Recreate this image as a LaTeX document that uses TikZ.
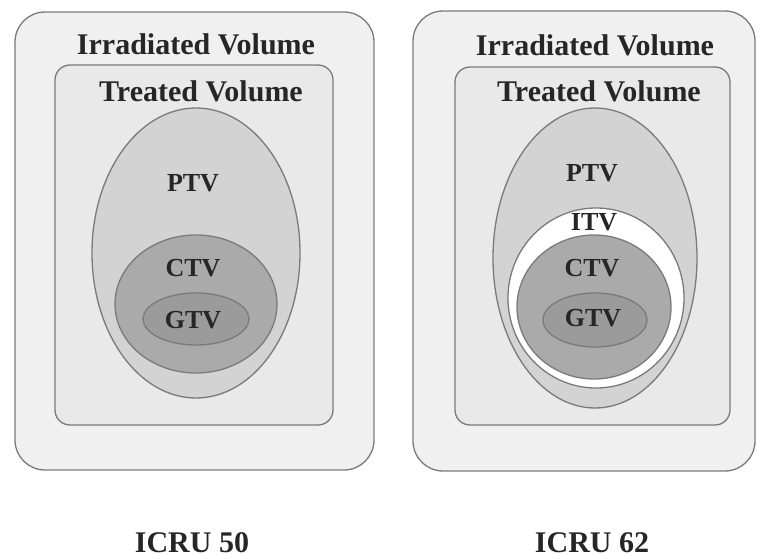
\documentclass[tikz,border=0pt]{standalone}
\usepackage{fontspec}
\setmainfont{Liberation Serif}
\definecolor{boxfill}{HTML}{F0F0F0}
\definecolor{treatfill}{HTML}{E9E9E9}
\definecolor{ptvfill}{HTML}{D3D3D3}
\definecolor{ctvfill}{HTML}{AAAAAA}
\definecolor{gtvfill}{HTML}{9B9B9B}
\definecolor{edge}{HTML}{7A7A7A}
\begin{document}
\begin{tikzpicture}[x=1pt,y=-1pt,line width=1.3pt,draw=edge,
    biglabel/.style={text=black!85,font=\fontsize{30}{36}\selectfont\bfseries,inner sep=0pt},
    vollabel/.style={text=black!85,font=\fontsize{26}{30}\selectfont\bfseries,inner sep=0pt}]
  \useasboundingbox (0,0) rectangle (760,559);
  % ICRU 50: draw outer box
  \draw[fill=boxfill,rounded corners=30pt] (15,12) rectangle (374,470);
  \node[biglabel] (irr50) at (196,44) {Irradiated Volume};
  % draw inner box
  \draw[fill=treatfill,rounded corners=15pt] (55,65) rectangle (333,425);
  \node[biglabel] (treat50) at (201,91) {Treated Volume};
  % draw PTV, CTV, GTV
  \draw[fill=ptvfill] (196,253) ellipse [x radius=104, y radius=145];
  \node[vollabel] (ptv50) at (193,183) {PTV};
  \draw[fill=ctvfill] (196,304) ellipse [x radius=81, y radius=69];
  \node[vollabel] (ctv50) at (193,268) {CTV};
  \draw[fill=gtvfill] (196,319) ellipse [x radius=53, y radius=26];
  \node[vollabel] (gtv50) at (193,320) {GTV};
  \node[biglabel] (icru50) at (192,543) {ICRU 50};
  % ICRU 62: draw outer box
  \draw[fill=boxfill,rounded corners=30pt] (413,11) rectangle (755,471);
  \node[biglabel] (irr62) at (595,45) {Irradiated Volume};
  % draw inner box
  \draw[fill=treatfill,rounded corners=15pt] (455,67) rectangle (730,425);
  \node[biglabel] (treat62) at (599,91) {Treated Volume};
  % draw PTV, ITV, CTV, GTV
  \draw[fill=ptvfill] (595,258) ellipse [x radius=102, y radius=150];
  \node[vollabel] (ptv62) at (592,173) {PTV};
  \draw[fill=white] (596,298) ellipse [x radius=88, y radius=90];
  \node[vollabel] (itv62) at (594,222) {ITV};
  \draw[fill=ctvfill] (594,307) ellipse [x radius=77, y radius=72];
  \node[vollabel] (ctv62) at (592,268) {CTV};
  \draw[fill=gtvfill] (595,320) ellipse [x radius=52, y radius=27];
  \node[vollabel] (gtv62) at (593,318) {GTV};
  \node[biglabel] (icru62) at (592,543) {ICRU 62};
\end{tikzpicture}
\end{document}
